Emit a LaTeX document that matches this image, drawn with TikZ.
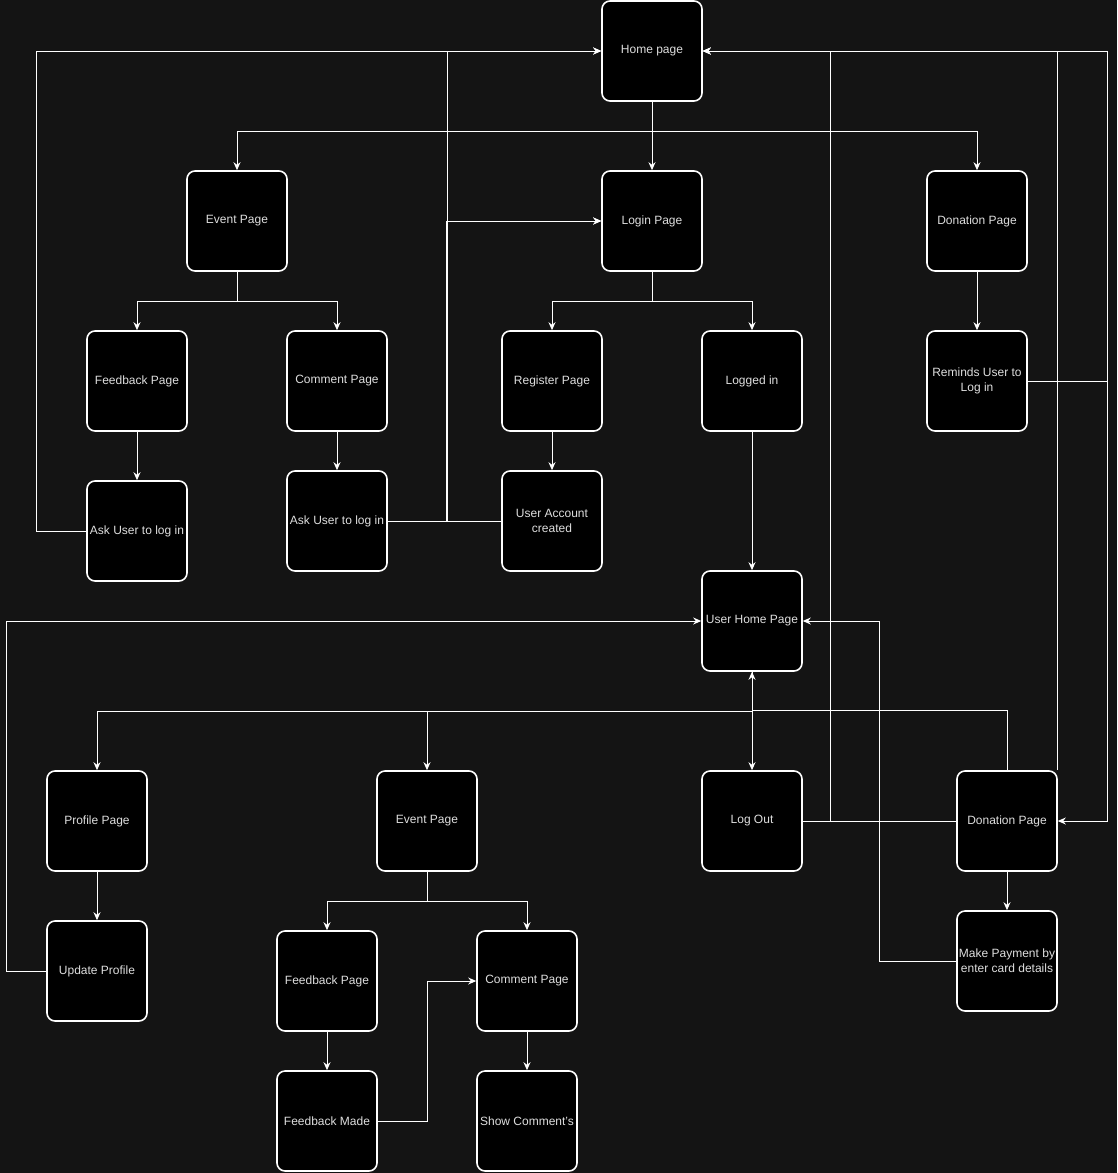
\documentclass[tikz,border=0pt]{standalone}
\usepackage{fontspec}
\setmainfont{Liberation Sans}
\usepackage{tikz}
\usetikzlibrary{arrows.meta}
\usetikzlibrary{positioning}

\definecolor{bgdark}{RGB}{20,20,20}
\definecolor{labelgray}{RGB}{222,222,222}

\tikzset{
    box/.style={shape=rectangle, draw=white, line width=1.6pt, fill=black, rounded corners=8pt,
        minimum size=100pt, inner sep=1pt, align=center, text=labelgray,
        font=\fontsize{12}{15}\selectfont},
    link/.style={draw=white, line width=1pt, -{Stealth[length=8pt,width=7pt]}},
    plain/.style={draw=white, line width=1pt},
}

\begin{document}
\begin{tikzpicture}[x=1pt, y=-1pt]
        % background
        \path[fill=bgdark] (0,0) rectangle (1117,1173);

        % top level
        \node (home) at (652,51) [box] {Home page};
        \node (event1) at (237,221) [box] {Event Page};
        \node (login) at (652,221) [box] {Login Page};
        \node (don1) at (977,221) [box] {Donation Page};

        % second level
        \node (feed1) at (137,381) [box] {Feedback Page};
        \node (comm1) at (337,381) [box] {Comment Page};
        \node (reg) at (552,381) [box] {Register Page};
        \node (logged) at (752,381) [box] {Logged in};
        \node (remind) at (977,381) [box] {Reminds User to\\Log in};

        % login prompts
        \node (ask1) at (137,531) [box] {Ask User to log in};
        \node (ask2) at (337,521) [box] {Ask User to log in};
        \node (account) at (552,521) [box] {User Account\\created};

        % user area
        \node (uhp) at (752,621) [box] {User Home Page};
        \node (profile) at (97,821) [box] {Profile Page};
        \node (event2) at (427,821) [box] {Event Page};
        \node (logout) at (752,821) [box] {Log Out};
        \node (don2) at (1007,821) [box] {Donation Page};
        \node (update) at (97,971) [box] {Update Profile};
        \node (feed2) at (327,981) [box] {Feedback Page};
        \node (comm2) at (527,981) [box] {Comment Page};
        \node (pay) at (1007,961) [box] {Make Payment by\\enter card details};
        \node (made) at (327,1121) [box] {Feedback Made};
        \node (show) at (527,1121) [box] {Show Comment's};

        % connections (guest)
        \draw[link] (home) -- (login);
        \draw[link] (home.south) -- ++(0,30) -| (event1);
        \draw[link] (home.south) -- ++(0,30) -| (don1);
        \draw[link] (event1.south) -- ++(0,30) -| (feed1);
        \draw[link] (event1.south) -- ++(0,30) -| (comm1);
        \draw[link] (login.south) -- ++(0,30) -| (reg);
        \draw[link] (login.south) -- ++(0,30) -| (logged);
        \draw[link] (don1) -- (remind);
        \draw[link] (feed1) -- (ask1);
        \draw[link] (comm1) -- (ask2);
        \draw[link] (reg) -- (account);
        \draw[link] (ask1.west) -- ++(-50,0) |- (home);
        \draw[link] (ask2.east) -- ++(60,0) |- (home);
        \draw[link] (ask2.east) -- ++(60,0) |- (login);
        \draw[link] (account.west) -- ++(-55,0) |- (login);
        \draw[link] (logged) -- (uhp);
        \draw[link] (remind.east) -- ++(80,0) |- (home);
        \draw[link] (remind.east) -- ++(80,0) |- (don2);

        % connections (user)
        \draw[link] (don2.north east) |- (home);
        \draw[link] (logout.east) -- ++(28,0) |- (home);
        \draw[plain] (don2.west) -- (logout.east);
        \draw[link, {Stealth[length=8pt,width=7pt]}-{Stealth[length=8pt,width=7pt]}] (uhp) -- (logout);
        \draw[link] (uhp.south) -- ++(0,40) -| (profile);
        \draw[link] (uhp.south) -- ++(0,40) -| (event2);
        \draw[plain] (don2.north) -- ++(0,-60) -| (uhp.south);
        \draw[link] (profile) -- (update);
        \draw[link] (update.west) -- ++(-40,0) |- (uhp);
        \draw[link] (event2.south) -- ++(0,30) -| (feed2);
        \draw[link] (event2.south) -- ++(0,30) -| (comm2);
        \draw[link] (feed2) -- (made);
        \draw[link] (made.east) -- ++(50,0) |- (comm2);
        \draw[link] (comm2) -- (show);
        \draw[link] (don2) -- (pay);
        \draw[link] (pay.west) -- ++(-77,0) |- (uhp);
    \end{tikzpicture}
\end{document}
